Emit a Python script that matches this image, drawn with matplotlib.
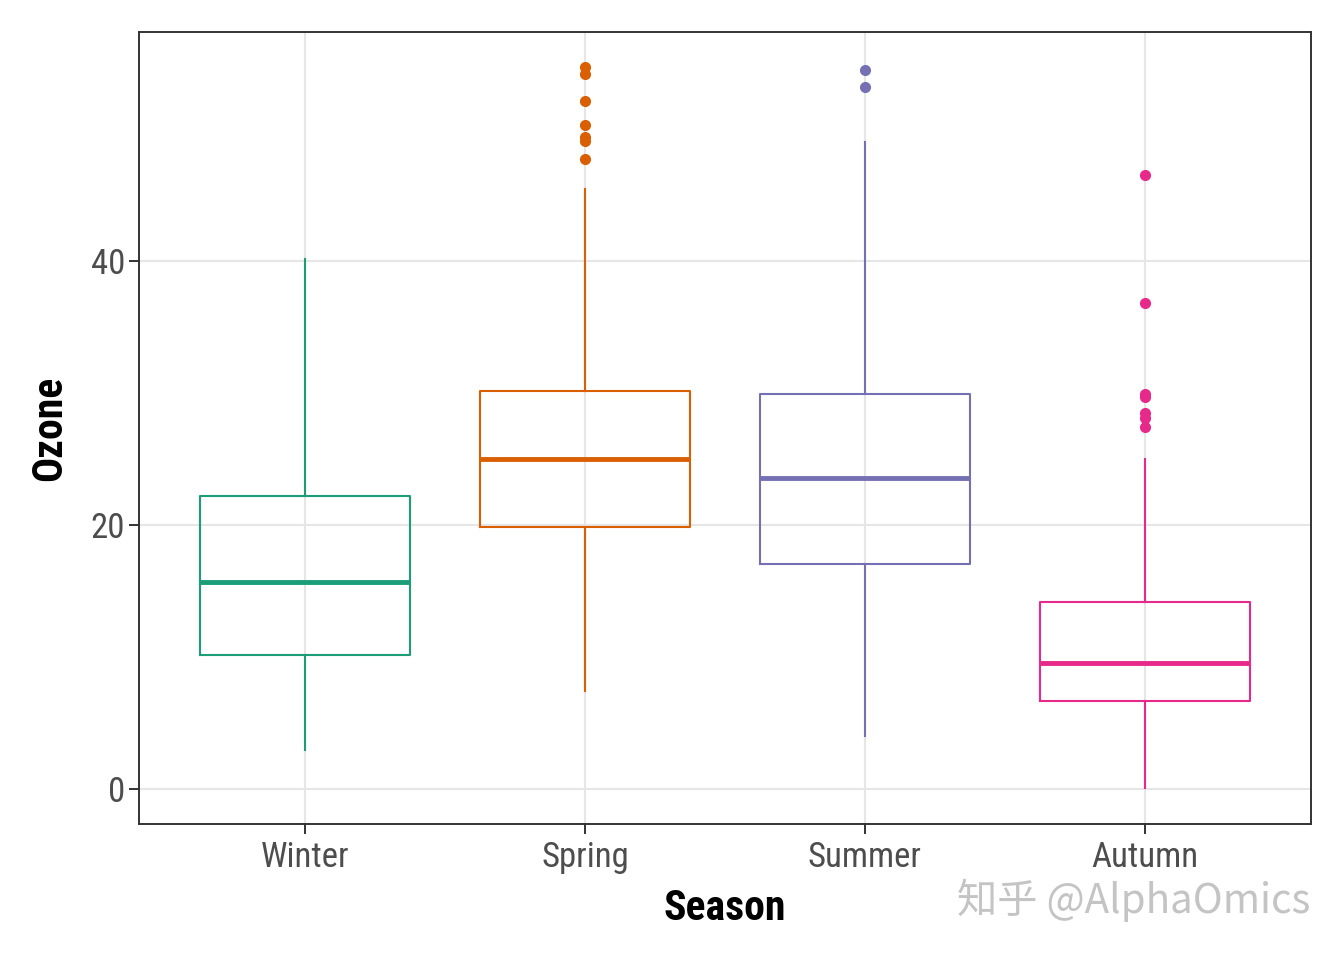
import matplotlib
matplotlib.use("Agg")
import matplotlib.pyplot as plt
from matplotlib import font_manager as fm

seasons = ["Winter", "Spring", "Summer", "Autumn"]
colors = ["#1B9E77", "#D95F02", "#7570B3", "#E7298A"]
whislo = [2.95, 7.4, 4.0, 0.1]
q1 = [10.15, 19.85, 17.05, 6.67]
med = [15.7, 25.0, 23.56, 9.55]
q3 = [22.2, 30.15, 29.9, 14.17]
whishi = [40.15, 45.45, 49.0, 25.0]
outliers = [
    [],
    [54.72, 54.17, 52.12, 50.33, 49.37, 49.11, 47.7],
    [54.47, 53.2],
    [46.5, 36.8, 29.9, 29.7, 28.46, 28.08, 27.45],
]
yticks = [0, 20, 40]

names = {f.name for f in fm.fontManager.ttflist}
fam = [f for f in ["Roboto Condensed", "Roboto", "DejaVu Sans"] if f in names]
plt.rcParams["font.family"] = fam

fig = plt.figure(figsize=(13.44, 9.6), dpi=100)
ax = fig.add_axes([139/1344, 1-824/960, (1311-139)/1344, (824-32)/960])

for y in yticks:
    ax.axhline(y, color="#E6E6E6", lw=1.5, zorder=0)
for i in range(len(seasons)):
    ax.axvline(i, color="#E6E6E6", lw=1.5, zorder=0)

for i, s in enumerate(seasons):
    st = dict(label=s, whislo=whislo[i], q1=q1[i], med=med[i], q3=q3[i],
              whishi=whishi[i], fliers=outliers[i])
    c = colors[i]
    ax.bxp([st], positions=[i], widths=0.75, showcaps=False, patch_artist=False,
           boxprops=dict(color=c, lw=1.5),
           whiskerprops=dict(color=c, lw=1.5),
           medianprops=dict(color=c, lw=3.5, solid_capstyle="butt"),
           flierprops=dict(marker="o", markerfacecolor=c, markeredgecolor=c,
                           markersize=7, linestyle="none"),
           manage_ticks=False)

ax.set_xlim(-0.593, 3.593)
ax.set_ylim(-2.65, 57.35)
ax.set_xticks(range(len(seasons)))
ax.set_xticklabels(seasons)
ax.set_yticks(yticks)
ax.tick_params(axis="both", colors="#333333", length=7, width=1.4,
               labelsize=25, labelcolor="#4D4D4D", pad=3)
ax.tick_params(axis="x", pad=5)
for sp in ax.spines.values():
    sp.set_color("#333333")
    sp.set_linewidth(1.4)

ax.set_xlabel("Season", fontsize=30, fontweight="bold", labelpad=10)
ax.set_ylabel("Ozone", fontsize=30, fontweight="bold", labelpad=15)

fig.text(0.975, 0.062, "知乎 @AlphaOmics", ha="right", va="center",
         fontsize=29, color="#C4C4C4",
         family=["Noto Sans CJK SC", "DejaVu Sans"])

fig.savefig("out.png", dpi=100, facecolor="white")
